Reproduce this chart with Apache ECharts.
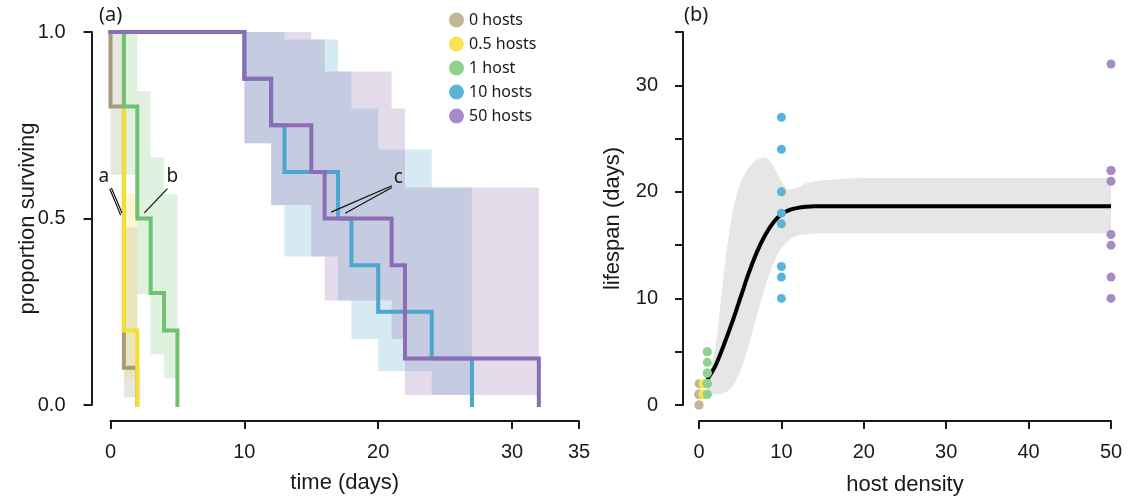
<!DOCTYPE html>
<html>
<head>
<meta charset="utf-8">
<script src="https://cdn.jsdelivr.net/npm/echarts@6/dist/echarts.min.js"></script>
<style>
  html, body { margin: 0; padding: 0; background: #ffffff; }
  #chart { width: 1131px; height: 501px; }
</style>
</head>
<body>
<div id="chart"></div>
<script>
// ---------- panel (a): survival curves by host density ----------
const groupNames = ['0 hosts', '0.5 hosts', '1 host', '10 hosts', '50 hosts'];

// [day, proportion surviving] at each step of the survival curve
const km0  = [[0, 1], [0, 0.8], [1, 0.1], [2, 0]];
const km05 = [[0, 1], [1, 0.2], [2, 0]];
const km1  = [[0, 1], [1, 0.8], [2, 0.5], [3, 0.3], [4, 0.2], [5, 0]];
const km10 = [[0, 1], [10, 0.875], [12, 0.75], [13, 0.625], [17, 0.5], [18, 0.375], [20, 0.25], [24, 0.125], [27, 0]];
const km50 = [[0, 1], [10, 0.875], [12, 0.75], [15, 0.625], [16, 0.5], [21, 0.375], [22, 0.125], [32, 0]];

// confidence band, one row per interval: [from day, to day, lower, upper]
const ci0  = [[0, 1, 0.617, 1], [1, 2, 0.021, 0.476]];
const ci05 = [[1, 2, 0.071, 0.566]];
const ci1  = [[1, 2, 0.617, 1], [2, 3, 0.297, 0.841], [3, 4, 0.136, 0.664], [4, 5, 0.071, 0.566]];
const ci10 = [[10, 12, 0.702, 1], [12, 13, 0.536, 1], [13, 17, 0.398, 0.98], [17, 18, 0.28, 0.894],
              [18, 20, 0.177, 0.795], [20, 24, 0.091, 0.685], [24, 27, 0.027, 0.583]];
const ci50 = [[10, 12, 0.702, 1], [12, 15, 0.536, 1], [15, 16, 0.398, 0.98], [16, 21, 0.28, 0.894],
              [21, 22, 0.177, 0.795], [22, 32, 0.027, 0.583]];

const timeTicks = [0, 10, 20, 30, 35];
const survTicks = [0, 0.5, 1];

// pointer notes: letter and its leader lines, in day / proportion units
const noteLetters = [['a', -0.5, 0.612], ['b', 4.62, 0.612], ['c', 21.51, 0.61]];
const noteLeaders = [
  [-0.06, 0.580, 0.76, 0.509], [0.07, 0.582, 0.86, 0.515],
  [4.25, 0.580, 2.53, 0.515],
  [21.02, 0.588, 16.48, 0.517], [21.02, 0.583, 17.53, 0.514]
];

// ---------- panel (b): lifespan against host density ----------
const density = [0, 0.5, 1, 10, 50];
const lifespan0  = [0, 0, 1, 1, 1, 1, 1, 1, 1, 2];
const lifespan05 = [1, 1, 1, 1, 1, 1, 1, 1, 2, 2];
const lifespan1  = [1, 1, 2, 2, 2, 3, 3, 4, 5, 5];
const lifespan10 = [10, 12, 13, 17, 18, 20, 24, 27];
const lifespan50 = [10, 12, 15, 16, 21, 22, 22, 32];

// fitted curve and its band
const fitX     = [1, 2, 3, 4, 5, 6, 7, 8, 9, 10, 11, 12, 13, 14, 15, 20, 30, 40, 50];
const fitMean  = [2.4, 3.7, 5.6, 7.7, 10.0, 12.3, 14.3, 15.9, 17.1, 17.9, 18.3, 18.5, 18.6, 18.65, 18.65, 18.65, 18.65, 18.65, 18.65];
const fitUpper = [2.6, 5.5, 12.2, 17.8, 20.8, 22.2, 23.0, 23.2, 22.4, 21.0, 20.2, 20.4, 20.8, 21.0, 21.1, 21.3, 21.3, 21.3, 21.3];
const fitLower = [1.0, 1.0, 1.1, 1.7, 3.2, 5.5, 8.3, 11.0, 13.2, 14.7, 15.5, 15.9, 16.0, 16.1, 16.1, 16.1, 16.1, 16.1, 16.1];

const densityTicks = [0, 10, 20, 30, 40, 50];
const lifespanLabels = [0, 10, 20, 30];

// ---------- styling ----------
const lineColors  = ['#a59b7e', '#f6df33', '#70c270', '#4ea5cd', '#8d6cb6'];
const pointColors = ['#c2b795', '#f8e451', '#8fd18f', '#5cb3d9', '#a68bc8'];
const bandColors  = ['rgba(175,175,160,0.30)', 'rgba(245,225,80,0.25)', 'rgba(140,205,140,0.28)',
                     'rgba(115,185,212,0.30)', 'rgba(162,135,185,0.30)'];
const axisFont = 'Liberation Sans, Arial, sans-serif';
const noteFont = 'Noto Sans, Open Sans, sans-serif';
const ink = '#1a1a1a';

const fitWithX = ys => fitX.map((x, i) => [x, ys[i]]);

// one stepped polygon per band
function bandSeries(rows, color) {
  return {
    type: 'custom', xAxisIndex: 0, yAxisIndex: 0, z: 1, silent: true,
    data: [0],
    renderItem: (params, api) => {
      const top = [], bottom = [];
      rows.forEach(([a, b, lo, hi]) => {
        top.push(api.coord([a, hi]), api.coord([b, hi]));
        bottom.push(api.coord([a, lo]), api.coord([b, lo]));
      });
      return {
        type: 'polygon',
        shape: { points: top.concat(bottom.reverse()) },
        style: { fill: color }
      };
    }
  };
}

function stepSeries(name, data, color, z) {
  return {
    name, type: 'line', step: 'end', data, xAxisIndex: 0, yAxisIndex: 0,
    symbol: 'none', clip: false, z,
    lineStyle: { color, width: 4, cap: 'square', join: 'miter' }
  };
}

function pointSeries(name, x, ys, color) {
  return {
    name, type: 'scatter', xAxisIndex: 1, yAxisIndex: 1, clip: false, z: 6,
    symbolSize: 9, itemStyle: { color, opacity: 1 },
    data: ys.map(y => [x, y])
  };
}

function axisCommon() {
  return {
    nameMoveOverlap: false,
    axisLine: { show: true, onZero: false, lineStyle: { color: ink, width: 2 } },
    axisTick: { show: true, length: 8, lineStyle: { color: ink, width: 2 } },
    axisLabel: { color: ink, fontSize: 20, fontFamily: axisFont },
    splitLine: { show: false },
    nameTextStyle: { color: ink, fontSize: 22, fontFamily: axisFont }
  };
}

const chart = echarts.init(document.getElementById('chart'), null, { renderer: 'canvas' });

const leftX = axisCommon();
const leftY = axisCommon();
const rightX = axisCommon();
const rightY = axisCommon();

const option = {
  animation: false,
  backgroundColor: '#ffffff',
  grid: [
    { left: 110.5, top: 32, width: 468.5, height: 373 },
    { left: 699, top: 32, width: 412, height: 373 }
  ],
  xAxis: [
    Object.assign(leftX, {
      type: 'value', gridIndex: 0, min: 0, max: 35, interval: 5, offset: 16,
      name: 'time (days)', nameLocation: 'middle', nameGap: 51,
      axisTick: Object.assign(leftX.axisTick, { customValues: timeTicks }),
      axisLabel: Object.assign(leftX.axisLabel, { customValues: timeTicks, margin: 21 })
    }),
    Object.assign(rightX, {
      type: 'value', gridIndex: 1, min: 0, max: 50, interval: 10, offset: 16,
      name: 'host density', nameLocation: 'middle', nameGap: 53,
      axisTick: Object.assign(rightX.axisTick, { customValues: densityTicks }),
      axisLabel: Object.assign(rightX.axisLabel, { customValues: densityTicks, margin: 21 })
    })
  ],
  yAxis: [
    Object.assign(leftY, {
      type: 'value', gridIndex: 0, min: 0, max: 1, interval: 0.5, offset: 19,
      name: 'proportion surviving', nameLocation: 'middle', nameGap: 53,
      axisTick: Object.assign(leftY.axisTick, { customValues: survTicks }),
      axisLabel: Object.assign(leftY.axisLabel, {
        customValues: survTicks, margin: 26, formatter: v => Number(v).toFixed(1)
      })
    }),
    Object.assign(rightY, {
      type: 'value', gridIndex: 1, min: 0, max: 35, interval: 5, offset: 16,
      name: 'lifespan (days)', nameLocation: 'middle', nameGap: 59,
      axisLabel: Object.assign(rightY.axisLabel, { customValues: lifespanLabels, margin: 25 })
    })
  ],
  legend: {
    orient: 'vertical', left: 444, top: 7, itemGap: 8,
    itemWidth: 15, itemHeight: 15, icon: 'circle', selectedMode: false,
    textStyle: { color: ink, fontSize: 16, fontFamily: noteFont },
    data: groupNames.map((n, i) => ({ name: n, itemStyle: { color: pointColors[i] } }))
  },
  graphic: [
    { type: 'text', left: 99, top: 5, style: { text: '(a)', font: '20px ' + noteFont, fill: ink } },
    { type: 'text', left: 684, top: 5, style: { text: '(b)', font: '20px ' + noteFont, fill: ink } }
  ],
  series: [
    // bands
    bandSeries(ci0, bandColors[0]),
    bandSeries(ci05, bandColors[1]),
    bandSeries(ci1, bandColors[2]),
    bandSeries(ci10, bandColors[3]),
    bandSeries(ci50, bandColors[4]),
    // step lines
    stepSeries(groupNames[0], km0, lineColors[0], 3),
    stepSeries(groupNames[1], km05, lineColors[1], 4),
    stepSeries(groupNames[2], km1, lineColors[2], 5),
    stepSeries(groupNames[3], km10, lineColors[3], 6),
    stepSeries(groupNames[4], km50, lineColors[4], 7),
    // pointer notes
    {
      type: 'custom', xAxisIndex: 0, yAxisIndex: 0, z: 8, silent: true, clip: false,
      data: [0],
      renderItem: (params, api) => {
        const children = noteLeaders.map(([x1, y1, x2, y2]) => {
          const p1 = api.coord([x1, y1]), p2 = api.coord([x2, y2]);
          return { type: 'line', shape: { x1: p1[0], y1: p1[1], x2: p2[0], y2: p2[1] },
                   style: { stroke: '#111', lineWidth: 1.2 } };
        });
        noteLetters.forEach(([t, x, y]) => {
          const p = api.coord([x, y]);
          children.push({ type: 'text', x: p[0], y: p[1],
            style: { text: t, font: '19px ' + noteFont, fill: ink, align: 'center', verticalAlign: 'middle' } });
        });
        return { type: 'group', children };
      }
    },
    // panel (b): band drawn as upper area with the area below the lower edge cleared
    {
      type: 'line', xAxisIndex: 1, yAxisIndex: 1, data: fitWithX(fitUpper), smooth: 0.35,
      symbol: 'none', z: 1, silent: true, lineStyle: { width: 0 },
      areaStyle: { color: '#e6e6e6', opacity: 1, origin: 'start' }
    },
    {
      type: 'line', xAxisIndex: 1, yAxisIndex: 1, data: fitWithX(fitLower), smooth: 0.35,
      symbol: 'none', z: 2, silent: true, lineStyle: { width: 0 },
      areaStyle: { color: '#ffffff', opacity: 1, origin: 'start' }
    },
    {
      type: 'line', xAxisIndex: 1, yAxisIndex: 1, data: fitWithX(fitMean), smooth: 0.35,
      symbol: 'none', z: 3, silent: true, clip: false,
      lineStyle: { color: '#000000', width: 4 }
    },
    pointSeries(groupNames[0], density[0], lifespan0, pointColors[0]),
    pointSeries(groupNames[1], density[1], lifespan05, pointColors[1]),
    pointSeries(groupNames[2], density[2], lifespan1, pointColors[2]),
    pointSeries(groupNames[3], density[3], lifespan10, pointColors[3]),
    pointSeries(groupNames[4], density[4], lifespan50, pointColors[4])
  ]
};

chart.setOption(option);
</script>
</body>
</html>
